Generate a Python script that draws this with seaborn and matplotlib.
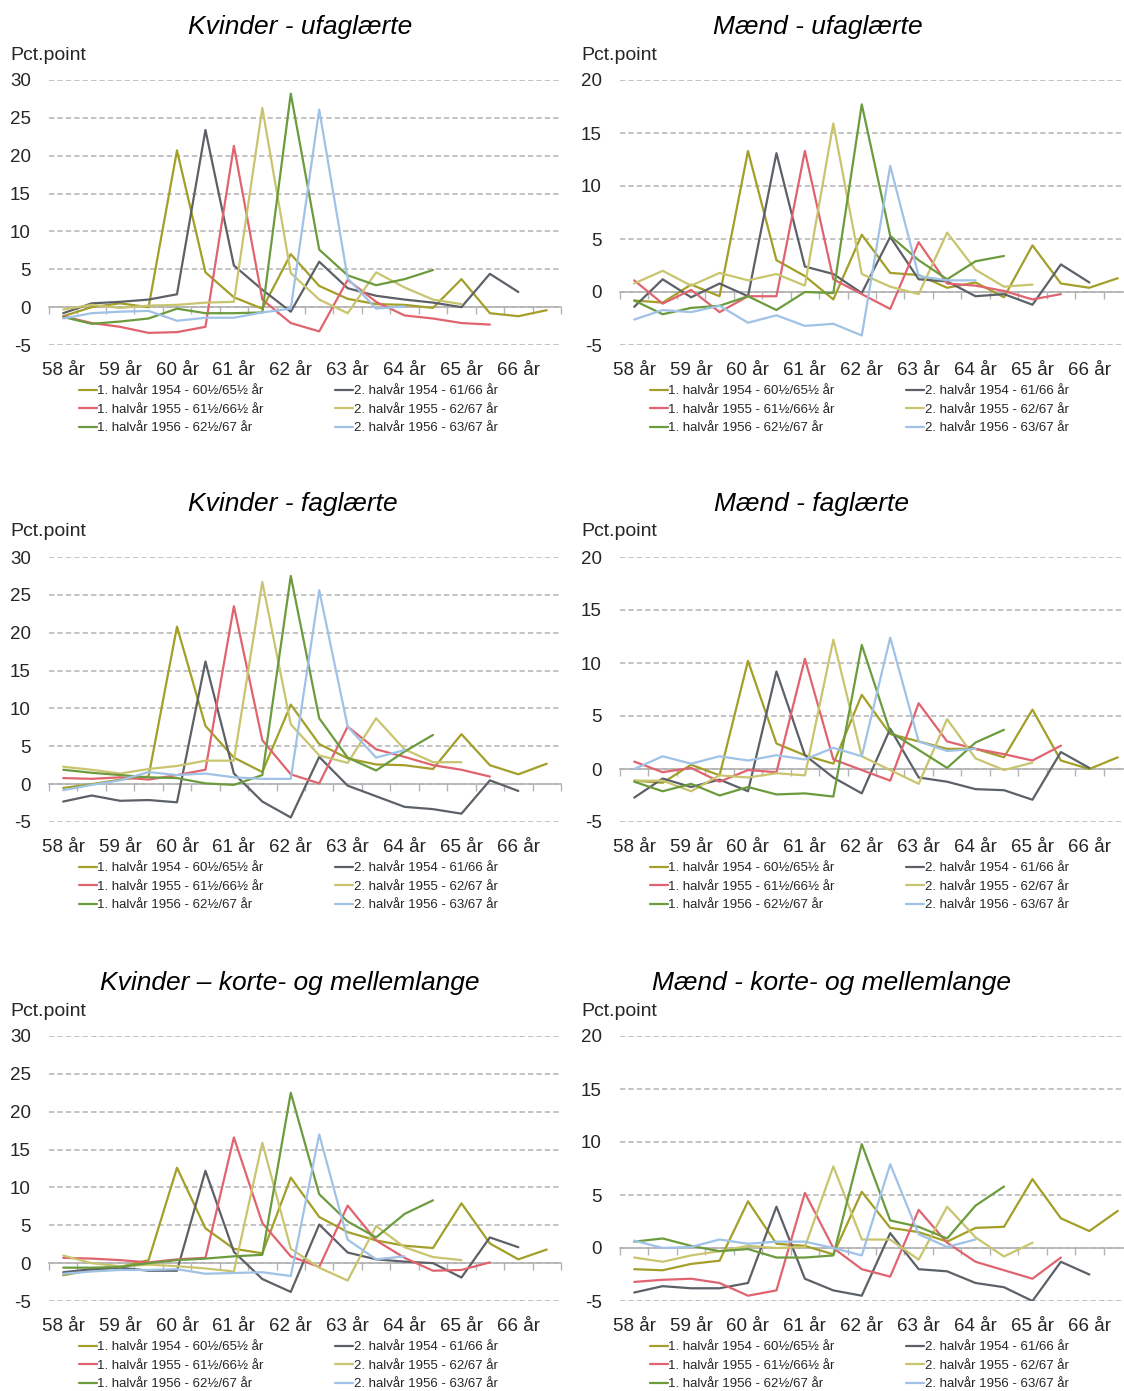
import numpy as np
import pandas as pd
import matplotlib
matplotlib.use("Agg")
import matplotlib.pyplot as plt
import seaborn as sns

# halvårs-kategorier: 58, 58½, 59, ... 66½ år (label kun på hele år)
ages = ["58 år", "59 år", "60 år", "61 år", "62 år", "63 år", "64 år", "65 år", "66 år"]
series = ["1. halvår 1954 - 60½/65½ år", "2. halvår 1954 - 61/66 år",
          "1. halvår 1955 - 61½/66½ år", "2. halvår 1955 - 62/67 år",
          "1. halvår 1956 - 62½/67 år", "2. halvår 1956 - 63/67 år"]
colors = ["#a39f29", "#5c6168", "#e0646f", "#c9c46e", "#6c9b3e", "#9fc2e6"]

# Kvinder - ufaglærte
ku_541 = [-1.2, 0.0, 0.5, 0.0, 20.7, 4.6, 1.3, -0.2, 7.0, 2.8, 1.1, 0.4, 0.3, -0.1, 3.7, -0.8, -1.2, -0.4]
ku_542 = [-0.8, 0.5, 0.7, 1.0, 1.7, 23.4, 5.5, 2.3, -0.6, 6.0, 2.5, 1.5, 1.0, 0.6, 0.0, 4.4, 2.0]
ku_551 = [-1.2, -2.1, -2.6, -3.4, -3.3, -2.6, 21.3, 1.0, -2.1, -3.2, 3.6, 0.7, -1.1, -1.5, -2.1, -2.3]
ku_552 = [-0.3, 0.3, -0.1, 0.2, 0.3, 0.6, 0.7, 26.3, 4.5, 1.0, -0.8, 4.6, 2.6, 1.0, 0.4]
ku_561 = [-1.3, -2.2, -1.9, -1.5, -0.2, -0.8, -0.8, -0.7, 28.2, 7.6, 4.2, 2.9, 3.7, 4.9]
ku_562 = [-1.5, -0.8, -0.6, -0.5, -1.8, -1.4, -1.4, -0.7, -0.2, 26.1, 3.8, -0.2, 0.1]

# Mænd - ufaglærte
mu_541 = [-0.8, -1.0, 0.7, -0.4, 13.3, 3.0, 1.5, -0.7, 5.4, 1.8, 1.6, 0.4, 0.9, -0.5, 4.4, 0.8, 0.4, 1.3]
mu_542 = [-1.4, 1.2, -0.5, 0.8, -0.4, 13.1, 2.4, 1.7, -0.1, 5.2, 1.2, 1.0, -0.4, -0.2, -1.2, 2.6, 0.9]
mu_551 = [1.1, -1.1, 0.2, -1.9, -0.4, -0.4, 13.3, 1.2, -0.2, -1.6, 4.7, 0.8, 0.6, 0.1, -0.7, -0.2]
mu_552 = [0.8, 2.0, 0.6, 1.8, 1.1, 1.7, 0.6, 15.9, 1.7, 0.5, -0.2, 5.6, 2.1, 0.5, 0.7]
mu_561 = [-0.8, -2.1, -1.5, -1.3, -0.4, -1.7, 0.0, -0.1, 17.7, 5.3, 3.0, 1.2, 2.9, 3.4]
mu_562 = [-2.6, -1.7, -1.9, -1.3, -2.9, -2.2, -3.2, -3.0, -4.1, 11.9, 1.5, 1.1, 1.1]

# Kvinder - faglærte
kf_541 = [-0.5, 0.0, 0.6, 1.0, 20.8, 7.7, 3.5, 1.6, 10.5, 5.3, 3.4, 2.6, 2.5, 2.0, 6.6, 2.5, 1.3, 2.7]
kf_542 = [-2.3, -1.5, -2.2, -2.1, -2.4, 16.2, 1.4, -2.3, -4.4, 3.6, -0.2, -1.6, -3.0, -3.3, -3.9, 0.5, -0.9]
kf_551 = [0.8, 0.7, 0.9, 0.6, 1.2, 1.9, 23.5, 5.8, 1.3, 0.1, 7.6, 4.6, 3.6, 2.5, 1.9, 1.0]
kf_552 = [2.3, 1.9, 1.4, 2.0, 2.4, 3.1, 3.1, 26.7, 7.9, 3.8, 2.8, 8.7, 4.6, 2.9, 2.9]
kf_561 = [1.9, 1.5, 1.2, 0.9, 0.8, 0.1, -0.1, 1.2, 27.5, 8.7, 3.5, 1.8, 4.3, 6.5]
kf_562 = [-0.8, -0.1, 0.5, 1.6, 1.2, 1.4, 0.9, 0.7, 0.7, 25.6, 7.6, 3.5, 4.5]

# Mænd - faglærte
mf_541 = [-1.1, -1.3, 0.4, -0.6, 10.2, 2.4, 1.3, 0.5, 7.0, 3.3, 2.6, 1.9, 1.9, 1.1, 5.6, 0.8, 0.0, 1.1]
mf_542 = [-2.7, -0.9, -1.7, -1.0, -2.1, 9.2, 1.3, -0.8, -2.3, 3.8, -0.8, -1.2, -1.9, -2.0, -2.9, 1.6, 0.1]
mf_551 = [0.7, -0.3, 0.1, -1.2, -0.1, -0.3, 10.4, 0.9, -0.1, -1.1, 6.2, 2.6, 1.9, 1.4, 0.8, 2.2]
mf_552 = [-1.1, -1.1, -2.1, -0.6, -0.8, -0.4, -0.6, 12.2, 1.2, -0.1, -1.4, 4.7, 1.0, -0.1, 0.6]
mf_561 = [-1.2, -2.1, -1.4, -2.5, -1.7, -2.4, -2.3, -2.6, 11.7, 3.5, 1.8, 0.1, 2.5, 3.7]
mf_562 = [0.0, 1.2, 0.5, 1.2, 0.8, 1.3, 0.9, 2.0, 1.2, 12.4, 2.6, 1.7, 1.9]

# Kvinder - korte- og mellemlange
kk_541 = [-1.6, -0.9, -0.5, 0.4, 12.6, 4.6, 1.9, 1.3, 11.3, 6.1, 4.1, 3.0, 2.3, 2.0, 7.9, 2.6, 0.5, 1.8]
kk_542 = [-1.2, -0.8, -0.6, -1.0, -1.0, 12.2, 1.5, -2.1, -3.8, 5.1, 1.4, 0.5, 0.2, 0.0, -1.9, 3.4, 2.1]
kk_551 = [0.7, 0.6, 0.4, 0.1, 0.5, 0.7, 16.6, 5.3, 0.9, -0.5, 7.6, 3.0, 0.7, -1.0, -0.9, 0.1]
kk_552 = [1.0, 0.0, -0.4, -0.2, -0.4, -0.7, -1.1, 15.9, 1.9, -0.6, -2.3, 4.9, 2.1, 0.8, 0.4]
kk_561 = [-0.6, -0.6, -0.5, 0.0, 0.4, 0.6, 0.9, 1.1, 22.5, 9.1, 5.5, 3.4, 6.5, 8.3]
kk_562 = [-1.4, -1.1, -0.9, -0.9, -0.8, -1.4, -1.3, -1.2, -1.7, 17.0, 3.1, 0.5, 0.9]

# Mænd - korte- og mellemlange
mk_541 = [-2.0, -2.1, -1.5, -1.2, 4.4, 0.4, 0.2, -0.6, 5.3, 1.9, 1.5, 0.6, 1.9, 2.0, 6.5, 2.8, 1.6, 3.5]
mk_542 = [-4.2, -3.6, -3.8, -3.8, -3.3, 3.9, -2.9, -4.0, -4.5, 1.4, -2.0, -2.2, -3.3, -3.7, -5.0, -1.3, -2.5]
mk_551 = [-3.2, -3.0, -2.9, -3.3, -4.5, -4.0, 5.2, 0.0, -2.0, -2.7, 3.6, 0.5, -1.3, -2.1, -2.9, -0.9]
mk_552 = [-0.9, -1.3, -0.7, -0.3, 0.2, 0.0, 0.1, 7.7, 0.8, 0.8, -1.1, 3.9, 1.0, -0.8, 0.5]
mk_561 = [0.6, 0.9, 0.2, -0.3, -0.1, -0.9, -0.9, -0.7, 9.8, 2.6, 2.0, 0.9, 4.0, 5.8]
mk_562 = [0.7, 0.0, 0.1, 0.8, 0.4, 0.6, 0.6, 0.0, -0.7, 7.9, 1.3, 0.1, 0.8]

titles = ["Kvinder - ufaglærte", "Mænd - ufaglærte",
          "Kvinder - faglærte", "Mænd - faglærte",
          "Kvinder \u2013 korte- og mellemlange", "Mænd - korte- og mellemlange"]
panels = [[ku_541, ku_542, ku_551, ku_552, ku_561, ku_562],
          [mu_541, mu_542, mu_551, mu_552, mu_561, mu_562],
          [kf_541, kf_542, kf_551, kf_552, kf_561, kf_562],
          [mf_541, mf_542, mf_551, mf_552, mf_561, mf_562],
          [kk_541, kk_542, kk_551, kk_552, kk_561, kk_562],
          [mk_541, mk_542, mk_551, mk_552, mk_561, mk_562]]

sns.set_style("white")
plt.rcParams['font.family'] = ['Liberation Sans', 'DejaVu Sans']
plt.rcParams['axes.unicode_minus'] = False

W, H = 1124, 1391
fig = plt.figure(figsize=(W / 100, H / 100), dpi=100)
grey = "#b3b3b3"
txt = "#262626"

row_top = [80, 557, 1036]
col_left = [49, 620]
title_x = [300, 818, 293, 811, 290, 831]
ax_w = 512
ax_h = 265

for k, (title, data) in enumerate(zip(titles, panels)):
    r, c = divmod(k, 2)
    x0, y0 = col_left[c], row_top[r]
    ax = fig.add_axes([x0 / W, 1 - (y0 + ax_h) / H, ax_w / W, ax_h / H])
    ymax = 30 if c == 0 else 20

    rows = []
    for name, vals in zip(series, data):
        for i, v in enumerate(vals):
            rows.append((name, i, v))
    df = pd.DataFrame(rows, columns=["serie", "halvaar", "pct"])
    sns.lineplot(data=df, x="halvaar", y="pct", hue="serie", hue_order=series,
                 palette=colors, linewidth=1.6, ax=ax, sort=False, zorder=3)
    handles, labels = ax.get_legend_handles_labels()
    ax.get_legend().remove()

    ax.set_xlim(-0.5, 17.5)
    ax.set_ylim(-5, ymax)
    ax.set_yticks(np.arange(-5, ymax + 1, 5))
    ax.set_xticks(np.arange(0, 17, 2))
    ax.set_xticklabels(ages)
    ax.tick_params(axis="both", length=0, labelsize=13.5, colors=txt)
    ax.tick_params(axis="x", pad=12)
    ax.tick_params(axis="y", pad=13)
    ax.set_xlabel("")
    ax.set_ylabel("")
    for s in ax.spines.values():
        s.set_visible(False)
    ax.yaxis.grid(True, linestyle=(0, (3.5, 2)), color=grey, linewidth=1.1)
    ax.xaxis.grid(False)

    # nul-linje med kategori-ticks
    zero = 5 / (ymax + 5)
    sec = ax.secondary_xaxis(zero)
    sec.set_xticks(np.arange(-0.5, 18, 1))
    sec.tick_params(length=5, color=grey, width=1, labelbottom=False, labeltop=False)
    for s in sec.spines.values():
        s.set_color(grey)
        s.set_linewidth(1.2)

    fig.text(title_x[k] / W, 1 - (y0 - 53) / H, title, fontsize=19,
             style="italic", ha="center", va="center", color="black")
    fig.text((x0 - 39) / W, 1 - (y0 - 25) / H, "Pct.point", fontsize=14,
             ha="left", va="center", color=txt)

    order = [0, 2, 4, 1, 3, 5]
    fig.legend([handles[i] for i in order], [labels[i] for i in order],
               loc="upper left", bbox_to_anchor=((x0 + 30) / W, 1 - (y0 + 305) / H),
               ncol=2, frameon=False, fontsize=9.5, handlelength=1.35,
               handletextpad=0.05, columnspacing=5.4, labelspacing=0.48,
               borderpad=0, borderaxespad=0, labelcolor=txt)

fig.savefig("out.png", dpi=100)
